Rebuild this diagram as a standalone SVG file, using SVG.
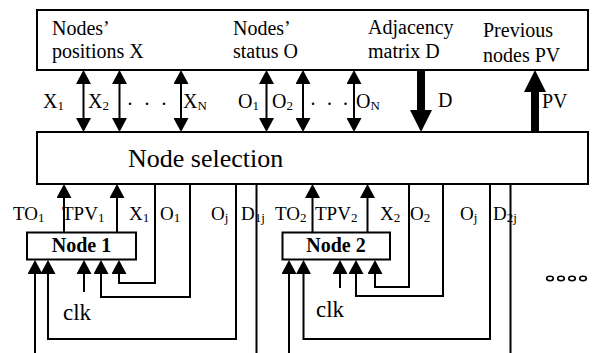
<svg xmlns="http://www.w3.org/2000/svg" width="596" height="353" viewBox="0 0 596 353" font-family="'Liberation Serif', 'DejaVu Serif', serif">
<style>
text{font-family:'Liberation Serif','DejaVu Serif','Times New Roman',serif;fill:#000}
.lbl{font-size:20px}
.sm{font-size:19px}
.sub{font-size:13px}
.box{fill:#fff;stroke:#000;stroke-width:2}
.ln{fill:none;stroke:#000;stroke-width:2}
.thick{fill:none;stroke:#000;stroke-width:8}
.ar{marker-end:url(#ah)}
.dar{marker-end:url(#ah);marker-start:url(#ahs)}
.node{font-size:20px;font-weight:bold}
</style>
<defs>
<marker id="ah" markerUnits="userSpaceOnUse" markerWidth="14" markerHeight="15" viewBox="0 0 14 15" refX="0" refY="7.5" orient="auto"><path d="M0,0 L14,7.5 L0,15 z" fill="#000"/></marker>
<marker id="ahs" markerUnits="userSpaceOnUse" markerWidth="14" markerHeight="15" viewBox="0 0 14 15" refX="0" refY="7.5" orient="auto-start-reverse"><path d="M0,0 L14,7.5 L0,15 z" fill="#000"/></marker>
<marker id="big" markerUnits="userSpaceOnUse" markerWidth="22" markerHeight="22" viewBox="0 0 22 22" refX="0" refY="11" orient="auto"><path d="M0,0 L22,11 L0,22 z" fill="#000"/></marker>
</defs>

<g id="top-box">
<rect class="box" x="37" y="10" width="551" height="60"/>
<text class="lbl" x="52" y="35">Nodes’</text>
<text class="lbl" x="52" y="58">positions X</text>
<text class="lbl" x="233" y="35">Nodes’</text>
<text class="lbl" x="233" y="58">status O</text>
<text class="lbl" x="368" y="34">Adjacency</text>
<text class="lbl" x="368" y="58">matrix D</text>
<text class="lbl" x="483" y="37">Previous</text>
<text class="lbl" x="483" y="62">nodes PV</text>
</g>

<g id="node-selection">
<rect class="box" x="37" y="132" width="551" height="52"/>
<text x="128" y="167" style="font-size:26px">Node selection</text>
</g>

<g id="node-1">
<rect class="box" x="27" y="232.5" width="109" height="27"/>
<text class="node" x="81.5" y="252" text-anchor="middle">Node 1</text>
</g>

<g id="node-2">
<rect class="box" x="282.5" y="232.5" width="107.5" height="27"/>
<text class="node" x="336" y="252" text-anchor="middle">Node 2</text>
</g>

<g id="connectors">
<line class="ln dar" x1="83.5" y1="84" x2="83.5" y2="118"/>
<line class="ln dar" x1="119.5" y1="84" x2="119.5" y2="118"/>
<line class="ln dar" x1="181" y1="84" x2="181" y2="118"/>
<line class="ln dar" x1="266.5" y1="84" x2="266.5" y2="118"/>
<line class="ln dar" x1="303" y1="84" x2="303" y2="118"/>
<line class="ln dar" x1="354" y1="84" x2="354" y2="118"/>
<line class="thick" x1="421" y1="70" x2="421" y2="110" marker-end="url(#big)"/>
<line class="thick" x1="535" y1="132" x2="535" y2="92" marker-end="url(#big)"/>

<line class="ln ar" x1="64" y1="232.5" x2="64" y2="198"/>
<line class="ln ar" x1="117" y1="232.5" x2="117" y2="198"/>
<polyline class="ln ar" points="155,184 155,283 119,283 119,274"/>
<polyline class="ln ar" points="190,184 190,297 101,297 101,274"/>
<polyline class="ln ar" points="236,184 236,339 48,339 48,274"/>
<line class="ln" x1="256.5" y1="184" x2="256.5" y2="353"/>
<line class="ln ar" x1="35" y1="353" x2="35" y2="274"/>
<line class="ln ar" x1="84" y1="292" x2="84" y2="274"/>

<line class="ln ar" x1="312.5" y1="232.5" x2="312.5" y2="198"/>
<line class="ln ar" x1="367.5" y1="232.5" x2="367.5" y2="198"/>
<polyline class="ln ar" points="409,184 409,287 375,287 375,274"/>
<polyline class="ln ar" points="443,184 443,296 356,296 356,274"/>
<polyline class="ln ar" points="490,184 490,339 303.5,339 303.5,274"/>
<line class="ln" x1="510.5" y1="184" x2="510.5" y2="353"/>
<line class="ln ar" x1="289" y1="353" x2="289" y2="274"/>
<line class="ln ar" x1="340" y1="288" x2="340" y2="274"/>
</g>

<g id="labels">
<text class="lbl" x="43" y="108">X<tspan class="sub" dy="2">1</tspan></text>
<text class="lbl" x="88" y="108">X<tspan class="sub" dy="2">2</tspan></text>
<text class="lbl" x="127.5 144.5 161.5" y="105">...</text>
<text class="lbl" x="183" y="108">X<tspan class="sub" dy="2">N</tspan></text>
<text class="lbl" x="238" y="108">O<tspan class="sub" dy="2">1</tspan></text>
<text class="lbl" x="272" y="108">O<tspan class="sub" dy="2">2</tspan></text>
<text class="lbl" x="310.5 327 343" y="105">...</text>
<text class="lbl" x="356" y="108">O<tspan class="sub" dy="2">N</tspan></text>
<text class="lbl" x="438" y="107">D</text>
<text class="lbl" x="542" y="108">PV</text>

<text class="sm" x="13" y="220">TO<tspan class="sub" dy="2">1</tspan></text>
<text class="sm" x="62" y="220">TPV<tspan class="sub" dy="2">1</tspan></text>
<text class="sm" x="129" y="220">X<tspan class="sub" dy="2">1</tspan></text>
<text class="sm" x="160" y="220">O<tspan class="sub" dy="2">1</tspan></text>
<text class="sm" x="211" y="220">O<tspan class="sub" dy="2">j</tspan></text>
<text class="sm" x="241" y="220">D<tspan class="sub" dy="2">1j</tspan></text>

<text class="sm" x="275" y="220">TO<tspan class="sub" dy="2">2</tspan></text>
<text class="sm" x="315" y="220">TPV<tspan class="sub" dy="2">2</tspan></text>
<text class="sm" x="380" y="220">X<tspan class="sub" dy="2">2</tspan></text>
<text class="sm" x="410" y="220">O<tspan class="sub" dy="2">2</tspan></text>
<text class="sm" x="460" y="220">O<tspan class="sub" dy="2">j</tspan></text>
<text class="sm" x="493" y="220">D<tspan class="sub" dy="2">2j</tspan></text>

<text x="63" y="320" style="font-size:23px">clk</text>
<text x="316" y="317" style="font-size:23px">clk</text>
</g>

<g id="ellipsis" fill="none" stroke="#000" stroke-width="1.6">
<ellipse cx="550" cy="278.5" rx="3.3" ry="2.2"/>
<ellipse cx="561" cy="278.5" rx="3.3" ry="2.2"/>
<ellipse cx="572" cy="278.5" rx="3.3" ry="2.2"/>
<ellipse cx="583" cy="278.5" rx="3.3" ry="2.2"/>
</g>
</svg>
